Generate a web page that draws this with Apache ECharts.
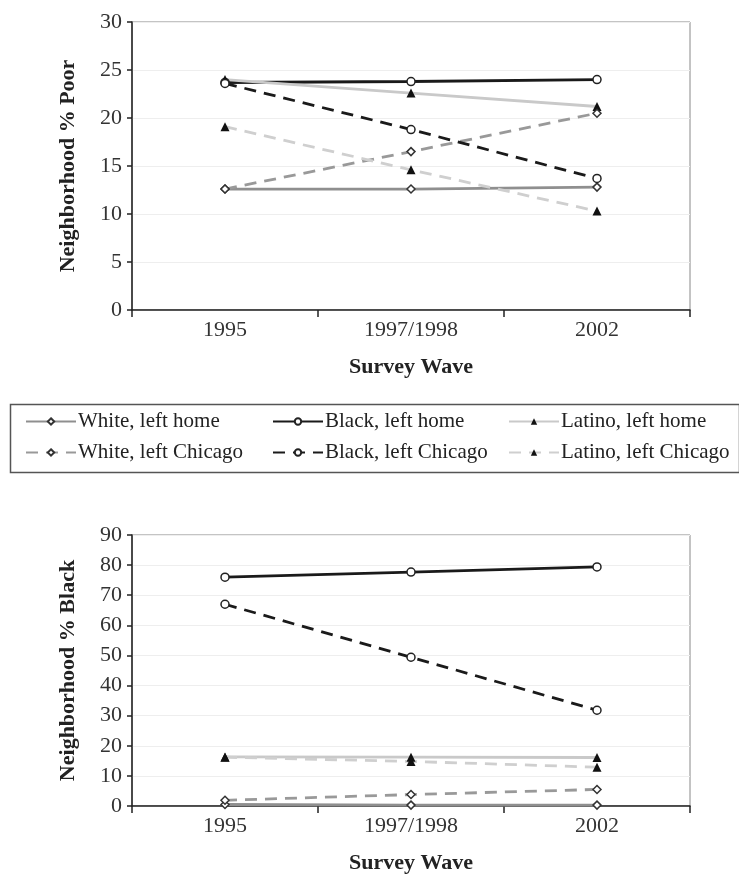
<!DOCTYPE html>
<html>
<head>
<meta charset="utf-8">
<script src="https://cdn.jsdelivr.net/npm/echarts@6/dist/echarts.min.js"></script>
<style>html,body{margin:0;padding:0;background:#fff}#c{width:739px;height:878px}</style>
</head>
<body>
<div id="c"></div>
<script>
const waves = ['1995', '1997/1998', '2002'];
const seriesNames = ['White, left home', 'Black, left home', 'Latino, left home', 'White, left Chicago', 'Black, left Chicago', 'Latino, left Chicago'];

// Neighborhood % Poor
const poorWhiteHome = [12.6, 12.6, 12.8];
const poorBlackHome = [23.7, 23.8, 24.0];
const poorLatinoHome = [24.0, 22.6, 21.2];
const poorWhiteChicago = [12.6, 16.5, 20.5];
const poorBlackChicago = [23.6, 18.8, 13.7];
const poorLatinoChicago = [19.1, 14.6, 10.3];

// Neighborhood % Black
const blackWhiteHome = [0.5, 0.3, 0.3];
const blackBlackHome = [76.0, 77.7, 79.4];
const blackLatinoHome = [16.3, 16.2, 16.1];
const blackWhiteChicago = [1.9, 3.8, 5.5];
const blackBlackChicago = [67.0, 49.4, 31.8];
const blackLatinoChicago = [16.2, 14.8, 12.9];

const poorTicks = {min: 0, max: 30, interval: 5};
const blackTicks = {min: 0, max: 90, interval: 10};

const FONT = '"Liberation Serif", "DejaVu Serif", serif';
const styles = [
  {color: '#8f8f8f', type: 'solid', symbol: 'diamond', fill: '#fff', border: '#333'},
  {color: '#1a1a1a', type: 'solid', symbol: 'circle', fill: '#fff', border: '#222'},
  {color: '#c9c9c9', type: 'solid', symbol: 'triangle', fill: '#111', border: '#111'},
  {color: '#999999', type: [12, 8], symbol: 'diamond', fill: '#fff', border: '#333'},
  {color: '#1a1a1a', type: [12, 8], symbol: 'circle', fill: '#fff', border: '#222'},
  {color: '#cfcfcf', type: [12, 8], symbol: 'triangle', fill: '#111', border: '#111'}
];
const poorData = [poorWhiteHome, poorBlackHome, poorLatinoHome, poorWhiteChicago, poorBlackChicago, poorLatinoChicago];
const blackData = [blackWhiteHome, blackBlackHome, blackLatinoHome, blackWhiteChicago, blackBlackChicago, blackLatinoChicago];

function mkSeries(idx, datasets) {
  return datasets.map((d, i) => ({
    name: seriesNames[i], type: 'line', xAxisIndex: idx, yAxisIndex: idx, data: d,
    symbol: styles[i].symbol, symbolSize: styles[i].symbol === 'triangle' ? 9 : 8,
    lineStyle: {color: styles[i].color, width: 2.8, type: styles[i].type},
    itemStyle: {color: styles[i].fill, borderColor: styles[i].border, borderWidth: styles[i].symbol === 'triangle' ? 0 : 1.5},
    animation: false
  }));
}
function xAxis(idx) {
  return {type: 'category', gridIndex: idx, data: waves, boundaryGap: true,
    name: 'Survey Wave', nameLocation: 'middle', nameGap: 46,
    nameTextStyle: {fontFamily: FONT, fontWeight: 'bold', fontSize: 22, color: '#222'},
    axisLine: {lineStyle: {color: '#222', width: 1.5}},
    axisTick: {show: true, length: 7, lineStyle: {color: '#222', width: 1.5}},
    axisLabel: {fontFamily: FONT, fontSize: 22, color: '#333', margin: 9},
    splitLine: {show: false}};
}
function yAxis(idx, name, t) {
  return {type: 'value', gridIndex: idx, min: t.min, max: t.max, interval: t.interval,
    name: name, nameLocation: 'middle', nameGap: 53, nameRotate: 90,
    nameTextStyle: {fontFamily: FONT, fontWeight: 'bold', fontSize: 22, color: '#222'},
    axisLine: {show: true, lineStyle: {color: '#222', width: 1.5}},
    axisTick: {show: true, length: 5, lineStyle: {color: '#222', width: 1.5}},
    axisLabel: {fontFamily: FONT, fontSize: 22, color: '#333', margin: 10},
    splitLine: {show: true, lineStyle: {color: '#eeeeee', width: 1}}};
}
function legendCol(left, names) {
  return {orient: 'vertical', left: left, top: 406, itemGap: 10, itemWidth: 50, itemHeight: 8,
    data: names, selectedMode: false,
    textStyle: {fontFamily: FONT, fontSize: 21, color: '#222', padding: [0, 0, 0, -3]}};
}
const chart = echarts.init(document.getElementById('c'), null, {renderer: 'canvas'});
chart.setOption({
  animation: false,
  backgroundColor: '#fff',
  grid: [
    {left: 132, right: 49, top: 22, height: 288, show: true, borderColor: '#888', borderWidth: 1, backgroundColor: 'transparent'},
    {left: 132, right: 49, top: 535, height: 271, show: true, borderColor: '#888', borderWidth: 1, backgroundColor: 'transparent'}
  ],
  xAxis: [xAxis(0), xAxis(1)],
  yAxis: [yAxis(0, 'Neighborhood % Poor', poorTicks), yAxis(1, 'Neighborhood % Black', blackTicks)],
  legend: [
    legendCol(20, [seriesNames[0], seriesNames[3]]),
    legendCol(267, [seriesNames[1], seriesNames[4]]),
    legendCol(503, [seriesNames[2], seriesNames[5]])
  ],
  graphic: [{type: 'rect', left: 8, top: 402, shape: {width: 729, height: 68}, style: {fill: 'none', stroke: '#555', lineWidth: 1.5}, z: -1}],
  series: mkSeries(0, poorData).concat(mkSeries(1, blackData))
});
</script>
</body>
</html>
